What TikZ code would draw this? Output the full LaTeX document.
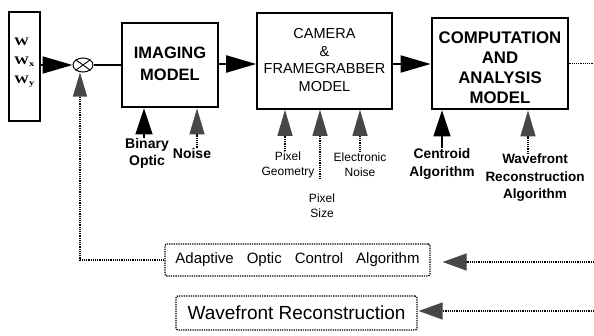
\documentclass[tikz,border=0pt]{standalone}
\usepackage{fontspec}
\setmainfont{Liberation Sans}
\newfontfamily\serifw{Liberation Serif}
\usetikzlibrary{arrows.meta,shapes.geometric}

\tikzset{
  thickbox/.style={draw, line width=2.8pt, inner sep=0pt},
  thinbox/.style={draw, line width=1.6pt, inner sep=0pt},
  dotbox/.style={draw, densely dotted, line width=1.3pt, rounded corners=2pt, inner sep=0pt},
  flow/.style={line width=2pt, -{Triangle[length=30pt,width=17pt]}},
  solidup/.style={line width=1.2pt, -{Triangle[length=26pt,width=17pt]}},
  stipup/.style={densely dotted, line width=1.2pt,
    -{Triangle[length=26pt,width=15pt,fill=black!72,color=black!72]}},
  stipin/.style={densely dotted, line width=1.2pt,
    -{Triangle[length=24pt,width=17pt,fill=black!72,color=black!72]}},
  boldlbl/.style={font=\bfseries\fontsize{14}{17}\selectfont, align=center, inner sep=0pt},
  smalllbl/.style={font=\fontsize{12}{15}\selectfont, align=center, inner sep=0pt},
}

\begin{document}
\begin{tikzpicture}[x=1pt,y=-1pt]
\useasboundingbox (0,0) rectangle (594,335);

% input wavefront block
\node[thickbox, minimum width=31pt, minimum height=109pt] (W) at (24.5,66.5) {};
\node[font=\serifw\bfseries\fontsize{11.5}{19.5}\selectfont, align=left, inner sep=0pt, xscale=1.3] (Wtxt) at (24.5,62.5)
  {W\\W\textsubscript{x}\\W\textsubscript{y}};

% summing junction
\node[ellipse, draw, line width=1pt, minimum width=20pt, minimum height=14pt, inner sep=0pt] (sum) at (83,65) {};
\draw[line width=0.9pt] (sum.north west) -- (sum.south east)
                        (sum.north east) -- (sum.south west);

% main chain of models
\node[thickbox, minimum width=96pt, minimum height=84pt] (img) at (170,65) {};
\node[font=\bfseries\fontsize{16.5}{22}\selectfont, align=center, inner sep=0pt] at (170,64) {IMAGING\\MODEL};

\node[thinbox, minimum width=135pt, minimum height=96pt] (cam) at (324.5,61) {};
\node[font=\fontsize{14.5}{17.7}\selectfont, align=center, inner sep=0pt] at (324.5,60)
  {CAMERA\\\&\\FRAMEGRABBER\\MODEL};

\node[thickbox, minimum width=136pt, minimum height=91pt] (comp) at (500,63.5) {};
\node[font=\bfseries\fontsize{16.8}{20}\selectfont, align=center, inner sep=0pt] at (500,68)
  {COMPUTATION\\AND\\ANALYSIS\\MODEL};

\coordinate (outA) at (594,63.5);

\draw[flow] (W.east |- sum) -- (sum.west);
\draw[line width=2pt] (sum.east) -- (sum -| img.west);
\draw[flow] (img.east |- 0,64) -- (cam.west |- 0,64);
\draw[flow] (cam.east |- 0,64) -- (comp.west |- 0,64);
\draw[densely dotted, line width=1.2pt] (comp.east) -- (outA);

% inputs to the imaging model
\node[boldlbl] (binary) at (147,153) {Binary\\Optic};
\node[boldlbl] (noise) at (192,153) {Noise};
\draw[solidup] ([xshift=-3pt]binary.north) -- ([xshift=-3pt]binary.north |- img.south);
\draw[stipup] ([xshift=5pt]noise.north) -- ([xshift=5pt]noise.north |- img.south);

% inputs to the camera model
\node[smalllbl] (pgeo) at (288,164.5) {Pixel\\Geometry};
\node[smalllbl] (psize) at (322,205.5) {Pixel\\Size};
\node[smalllbl] (enoise) at (360,164.5) {Electronic\\Noise};
\coordinate (psz) at (320,179);
\draw[stipup] ([xshift=-3pt]pgeo.north) -- ([xshift=-3pt]pgeo.north |- cam.south);
\draw[stipup] (psz) -- (psz |- cam.south);
\draw[stipup] (enoise.north) -- (enoise.north |- cam.south);

% inputs to the computation model
\node[font=\bfseries\fontsize{13.8}{18}\selectfont, align=center, inner sep=0pt] (centroid) at (442,164) {Centroid\\Algorithm};
\node[font=\bfseries\fontsize{13.5}{17.5}\selectfont, align=center, inner sep=0pt] (wra) at (535,178)
  {Wavefront\\Reconstruction\\Algorithm};
\draw[solidup] (centroid.north) -- (centroid.north |- comp.south);
\draw[stipup] ([xshift=-7pt]wra.north) -- ([xshift=-7pt]wra.north |- comp.south);

% feedback paths
\node[dotbox, minimum width=265pt, minimum height=32pt,
  font=\fontsize{15}{18}\selectfont] (adapt) at (297.5,260)
  {Adaptive\hspace{13pt}Optic\hspace{13pt}Control\hspace{13pt}Algorithm};
\node[dotbox, minimum width=241pt, minimum height=34pt,
  font=\fontsize{19}{22}\selectfont] (wr) at (296.5,313) {Wavefront Reconstruction};

\coordinate (inA) at (594,262);
\coordinate (inB) at (594,311);

\draw[stipup, -{Triangle[length=24pt,width=14pt,fill=black!72,color=black!72]}]
  (adapt.west) -| ([xshift=-3pt]sum.south);
\draw[stipin, shorten >=12pt] (inA) -- (inA -| adapt.east);
\draw[stipin, shorten >=1pt] (inB) -- (inB -| wr.east);
\end{tikzpicture}
\end{document}
